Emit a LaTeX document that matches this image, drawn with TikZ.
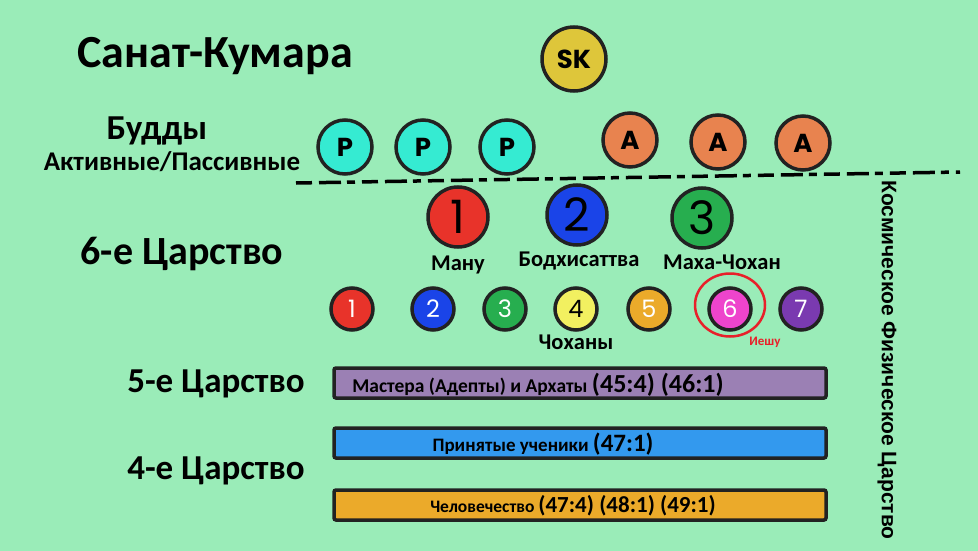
\documentclass[tikz,border=0pt]{standalone}
\usepackage{fontspec}
\usetikzlibrary{shapes.geometric}
\setmainfont{Carlito}
\newfontfamily\arialfont{Liberation Sans}
\newfontfamily\handfont{Poppins}
\newcommand\fsz[1]{\fontsize{#1}{#1}\selectfont}
\definecolor{bg}{HTML}{9AECB8}
\definecolor{ring}{HTML}{222222}
\definecolor{skY}{HTML}{DEC63A}
\definecolor{cyanP}{HTML}{35EBD2}
\definecolor{orA}{HTML}{E8834F}
\definecolor{cR}{HTML}{E8332A}
\definecolor{cB}{HTML}{1A44E8}
\definecolor{cG}{HTML}{27AE4F}
\definecolor{cYel}{HTML}{F2F060}
\definecolor{cO}{HTML}{EBAA2A}
\definecolor{cPink}{HTML}{EE44CC}
\definecolor{cPur}{HTML}{7A3AB0}
\definecolor{barP}{HTML}{9B80B4}
\definecolor{barB}{HTML}{3399EE}
\definecolor{iesh}{HTML}{E8202A}
\begin{document}
\begin{tikzpicture}[x=1pt,y=-1pt,
  circ/.style={circle, draw=ring, line width=3.5pt, minimum size=#1, inner sep=0pt},
  hand/.style={font=\handfont\bfseries\fsz{#1}},
  thin/.style={font=\handfont\fsz{#1}},
  title/.style={font=\bfseries\fsz{#1}, inner sep=0pt},
  bar/.style={draw=ring, line width=3.5pt, rounded corners=2pt, minimum width=492pt, minimum height=30pt, inner sep=0pt},
  dashline/.style={line width=3.5pt, dash pattern=on 16pt off 7pt on 22pt off 6pt on 8pt off 7pt}]
\fill[bg] (0,0) rectangle (978,551);
\useasboundingbox (0,0) rectangle (978,551);

% titles
\node[title=46] (t0) at (215,56) {Санат-Кумара};
\node[title=35] (t1) at (157,131) {Будды};
\node[title=27] (t2) at (172,162) {Активные/Пассивные};
\node[title=40] (t3) at (182,254) {6-е Царство};
\node[title=35] (t4) at (216,384) {5-е Царство};
\node[title=35] (t5) at (216,471) {4-е Царство};

% top circles
\node[circ=64pt, fill=skY, hand=26] (sk) at (574,59) {SK};
\node[circ=54pt, fill=cyanP, hand=26] (p1) at (345,147) {P};
\node[circ=54pt, fill=cyanP, hand=26] (p2) at (423,147) {P};
\node[circ=54pt, fill=cyanP, hand=26] (p3) at (507,147) {P};
\node[circ=54pt, fill=orA, hand=26] (a1) at (630,140) {A};
\node[circ=54pt, fill=orA, hand=26] (a2) at (718,142) {A};
\node[circ=54pt, fill=orA, hand=26] (a3) at (803,143) {A};

% dashed divider
\coordinate (dl) at (296,183);
\coordinate (dr) at (960,172);
\draw[dashline] (dl) -- (dr);

% big three
\node[circ=60pt, fill=cR, thin=46] (b1) at (458,217) {1};
\node[circ=60pt, fill=cB, thin=46] (b2) at (577,215) {2};
\node[circ=60pt, fill=cG, thin=46] (b3) at (702,218) {3};
\node[title=22.5] (l1) at (458,265) {Ману};
\node[title=22.5] (l2) at (579,261) {Бодхисаттва};
\node[title=22.5] (l3) at (722,262) {Маха-Чохан};

% seven chohans
\node[circ=42pt, fill=cR, text=white, thin=24] (c1) at (352,309) {1};
\node[circ=42pt, fill=cB, text=white, thin=24] (c2) at (433,309) {2};
\node[circ=42pt, fill=cG, text=white, thin=24] (c3) at (505,309) {3};
\node[circ=42pt, fill=cYel, text=black, thin=24] (c4) at (576,309) {4};
\node[circ=42pt, fill=cO, text=white, thin=24] (c5) at (649,309) {5};
\node[circ=42pt, fill=cPink, text=white, thin=24] (c6) at (730,309) {6};
\node[circ=42pt, fill=cPur, text=white, thin=24] (c7) at (801,309) {7};
\node[draw=iesh, line width=2.5pt, ellipse, minimum width=70pt, minimum height=63pt, inner sep=0pt] (ring6) at (730,305) {};
\node[title=22.5] (l4) at (576,342) {Чоханы};
\node[font=\bfseries\fsz{13}, text=iesh, inner sep=0pt] (l5) at (765,342) {Иешу};

% bars
\node[bar, fill=barP] (bar1) at (580,383) {};
\node[title=19.5] (bt1) at (538,385) {Мастера (Адепты) и Архаты {\fsz{26}(45:4) (46:1)}};
\node[bar, fill=barB] (bar2) at (580,443) {};
\node[title=19] (bt2) at (543,444) {Принятые ученики {\fsz{25}(47:1)}};
\node[bar, fill=cO] (bar3) at (580,505) {};
\node[title=17.5] (bt3) at (573,506) {Человечество {\fsz{23}(47:4) (48:1) (49:1)}};

% vertical label
\node[rotate=-90, font=\arialfont\bfseries\fsz{21}, inner sep=0pt] (cos) at (887,360) {Космическое Физическое Царство};
\end{tikzpicture}
\end{document}
